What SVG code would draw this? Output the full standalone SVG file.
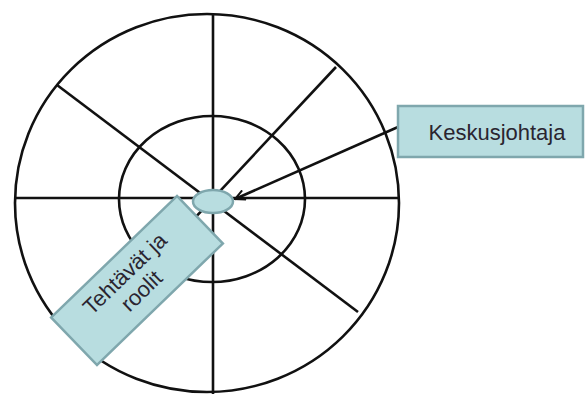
<svg xmlns="http://www.w3.org/2000/svg" width="586" height="394" viewBox="0 0 586 394">
<defs>
<style>
.ln{stroke:#111;stroke-width:2.6;fill:none}
.bx{fill:#b8dde0;stroke:#7fa7ad;stroke-width:2.5}
.tx{font-family:"Liberation Sans",Arial,sans-serif;font-size:22px;fill:#2a2530}
</style>
<marker id="ah" viewBox="0 0 12 12" refX="11" refY="6" markerWidth="12" markerHeight="12" markerUnits="userSpaceOnUse" orient="auto">
<path d="M1,1 L11,6 L1,11" fill="none" stroke="#111" stroke-width="2"/>
</marker>
</defs>
<rect width="586" height="394" fill="#fff"/>
<g id="wheel">
<ellipse class="ln" cx="207" cy="203" rx="192" ry="189"/>
<ellipse class="ln" cx="212" cy="199" rx="93" ry="83"/>
<line class="ln" x1="213" y1="14" x2="213" y2="394"/>
<line class="ln" x1="15" y1="198" x2="398" y2="198"/>
<line class="ln" x1="57" y1="85" x2="358" y2="312"/>
<line class="ln" x1="336" y1="67" x2="90" y2="330"/>
</g>
<g id="connectors">
<line class="ln" x1="398" y1="127" x2="235" y2="199" marker-end="url(#ah)"/>
</g>
<g id="center">
<ellipse class="bx" cx="213" cy="201.5" rx="20" ry="11.5" stroke-width="2"/>
</g>
<g id="keskusjohtaja">
<rect class="bx" x="398" y="106" width="185" height="51"/>
<text class="tx" x="497" y="140" text-anchor="middle">Keskusjohtaja</text>
</g>
<g id="tehtavat">
<g transform="translate(137,280.5) rotate(-44)">
<rect class="bx" x="-87.5" y="-33" width="175" height="66"/>
<text class="tx" x="-4" y="-6" text-anchor="middle">Tehtävät ja</text>
<text class="tx" x="-4" y="18" text-anchor="middle">roolit</text>
</g>
</g>
</svg>
